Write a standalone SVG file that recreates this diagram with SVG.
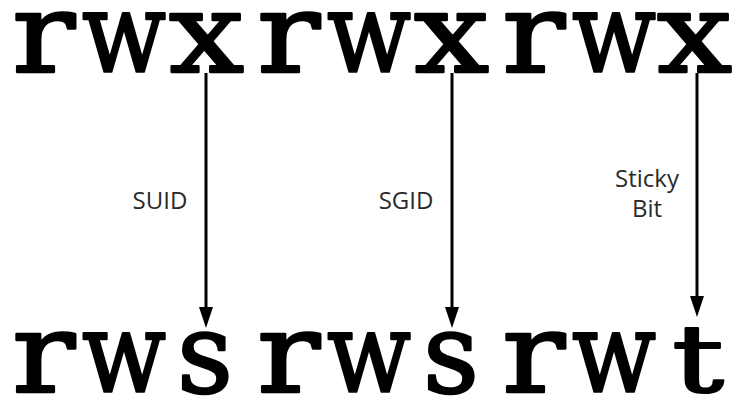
<svg xmlns="http://www.w3.org/2000/svg" width="735" height="402" viewBox="0 0 735 402">
<style>
.big text{font-family:"DejaVu Serif","Liberation Serif",serif;font-weight:normal;font-size:112px;fill:#000;stroke:#000;stroke-width:2.5;stroke-linejoin:round}
.lbl{font-family:"Open Sans","Noto Sans",sans-serif;font-size:24px;fill:#2a2a2a;text-anchor:middle}
.conn line{stroke:#000;stroke-width:3}
</style>
<defs>
<marker id="ah" markerWidth="21" markerHeight="14" refX="0" refY="7" orient="auto" markerUnits="userSpaceOnUse">
<polygon points="0,0 21,7 0,14" fill="#000"/>
</marker>
</defs>
<rect width="735" height="402" fill="#fff"/>
<g id="top" class="big">
<text x="12" y="72" textLength="63" lengthAdjust="spacingAndGlyphs">r</text>
<text x="82" y="72" textLength="84" lengthAdjust="spacingAndGlyphs">w</text>
<text x="169" y="72" textLength="75" lengthAdjust="spacingAndGlyphs">x</text>
<text x="257" y="72" textLength="63" lengthAdjust="spacingAndGlyphs">r</text>
<text x="327" y="72" textLength="84" lengthAdjust="spacingAndGlyphs">w</text>
<text x="414" y="72" textLength="75" lengthAdjust="spacingAndGlyphs">x</text>
<text x="502" y="72" textLength="63" lengthAdjust="spacingAndGlyphs">r</text>
<text x="572" y="72" textLength="84" lengthAdjust="spacingAndGlyphs">w</text>
<text x="657" y="72" textLength="75" lengthAdjust="spacingAndGlyphs">x</text>
</g>
<g id="bottom" class="big">
<text x="12" y="392" textLength="63" lengthAdjust="spacingAndGlyphs">r</text>
<text x="82" y="392" textLength="84" lengthAdjust="spacingAndGlyphs">w</text>
<text x="177" y="392" textLength="56" lengthAdjust="spacingAndGlyphs">s</text>
<text x="257" y="392" textLength="63" lengthAdjust="spacingAndGlyphs">r</text>
<text x="327" y="392" textLength="84" lengthAdjust="spacingAndGlyphs">w</text>
<text x="423" y="392" textLength="56" lengthAdjust="spacingAndGlyphs">s</text>
<text x="502" y="392" textLength="63" lengthAdjust="spacingAndGlyphs">r</text>
<text x="572" y="392" textLength="84" lengthAdjust="spacingAndGlyphs">w</text>
<text transform="translate(672,392) scale(1,0.84)" x="0" y="0" textLength="52" lengthAdjust="spacingAndGlyphs">t</text>
</g>
<g class="conn">
<line x1="206" y1="73" x2="206" y2="307" marker-end="url(#ah)"/>
<line x1="452" y1="73" x2="452" y2="307" marker-end="url(#ah)"/>
<line x1="697" y1="73" x2="697" y2="296" marker-end="url(#ah)"/>
</g>
<g id="suid"><text class="lbl" x="160" y="209">SUID</text></g>
<g id="sgid"><text class="lbl" x="406" y="209">SGID</text></g>
<g id="sticky"><text class="lbl" x="647" y="187">Sticky</text><text class="lbl" x="647" y="217">Bit</text></g>
</svg>
